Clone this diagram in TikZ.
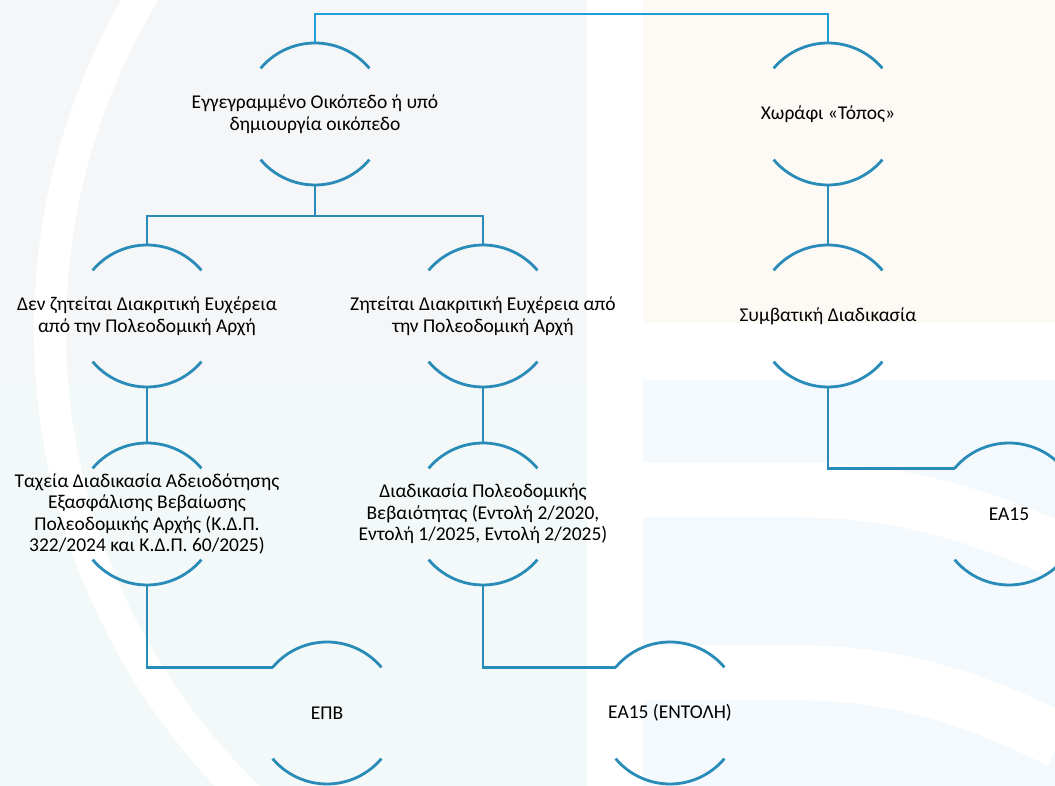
\documentclass[tikz,border=0pt]{standalone}
\usepackage{fontspec}
\setmainfont{Carlito}
\usetikzlibrary{positioning,calc}

\definecolor{flowblue}{RGB}{40,139,184}
\definecolor{topblue}{RGB}{34,158,214}
\definecolor{wmgray}{RGB}{245,246,247}
\definecolor{wmteal}{RGB}{243,248,248}
\definecolor{wmbeige}{RGB}{253,250,245}
\definecolor{wmblue}{RGB}{243,249,252}

\begin{document}
\begin{tikzpicture}[x=1pt,y=1pt,
    every node/.style={font=\fontsize{19.5}{21.6}\selectfont},
    stepnode/.style={circle,minimum size=142pt,inner sep=0pt,outer sep=0pt,
        label={[steptext]center:{#1}}},
    steptext/.style={align=center,inner sep=0pt,text=black},
    link/.style={draw=flowblue,line width=2.8pt},
    rim/.style={draw=flowblue,line width=2.8pt}
  ]
    \useasboundingbox (0,0) rectangle (1055,786);

    % faint watermark behind the chart
    \fill[wmgray] (0,403) rectangle (587,786);
    \fill[wmteal] (0,0) rectangle (587,403);
    \fill[wmbeige] (643,463) rectangle (1055,786);
    \fill[wmblue] (643,0) rectangle (1055,406);
    \begin{scope}
        \clip (0,0) rectangle (587,786);
        \draw[white,line width=32pt] (700,456) circle[radius=650pt];
    \end{scope}
    \begin{scope}
        \clip (643,0) rectangle (1055,406);
        \draw[white,line width=55pt] (643,296) -- (800,296)
            .. controls (900,296) and (980,270) .. (1060,235);
        \draw[white,line width=55pt] (643,113) -- (800,113)
            .. controls (900,113) and (980,85) .. (1060,45);
    \end{scope}

    \node[stepnode={Εγγεγραμμένο Οικόπεδο ή υπό\\δημιουργία οικόπεδο}] (plot) at (315,672) {};
    \node[stepnode={Χωράφι «Τόπος»}] (field) at (828,672) {};
    \node[stepnode={Δεν ζητείται Διακριτική Ευχέρεια\\από την Πολεοδομική Αρχή}] (nodiscretion) at (147,470) {};
    \node[stepnode={Ζητείται Διακριτική Ευχέρεια από\\την Πολεοδομική Αρχή}] (discretion) at (483,470) {};
    \node[stepnode={Συμβατική Διαδικασία}] (conventional) at (828,470) {};
    \node[stepnode={Ταχεία Διαδικασία Αδειοδότησης\\Εξασφάλισης Βεβαίωσης\\Πολεοδομικής Αρχής (Κ.Δ.Π.\\322/2024 και Κ.Δ.Π. 60/2025)}] (fasttrack) at (147,272) {};
    \node[stepnode={Διαδικασία Πολεοδομικής\\Βεβαιότητας (Εντολή 2/2020,\\Εντολή 1/2025, Εντολή 2/2025)}] (certainty) at (483,272) {};
    \node[stepnode={ΕΑ15}] (ea) at (1009,272) {};
    \node[stepnode={ΕΠΒ}] (epv) at (327,73) {};
    \node[stepnode={ΕΑ15 (ΕΝΤΟΛΗ)}] (eaorder) at (670,73) {};

    % upper and lower rims of every step
    \foreach \n in {plot,field,nodiscretion,discretion,conventional,fasttrack,certainty,ea,epv,eaorder} {
        \draw[rim] (\n.140) arc[start angle=140,end angle=40,radius=71pt];
        \draw[rim] (\n.220) arc[start angle=220,end angle=320,radius=71pt];
    }

    \draw[link,draw=topblue] (plot.north) -- ++(0,29) -| (field.north);
    \draw[link] (plot.south) -- ++(0,-31);
    \draw[link] (nodiscretion.north) -- ++(0,29) -| (discretion.north);
    \draw[link] (field.south) -- (conventional.north);
    \draw[link] (nodiscretion.south) -- (fasttrack.north);
    \draw[link] (discretion.south) -- (certainty.north);
    \draw[link] (conventional.south) |- (ea.140);
    \draw[link] (fasttrack.south) |- (epv.140);
    \draw[link] (certainty.south) |- (eaorder.140);
\end{tikzpicture}
\end{document}
